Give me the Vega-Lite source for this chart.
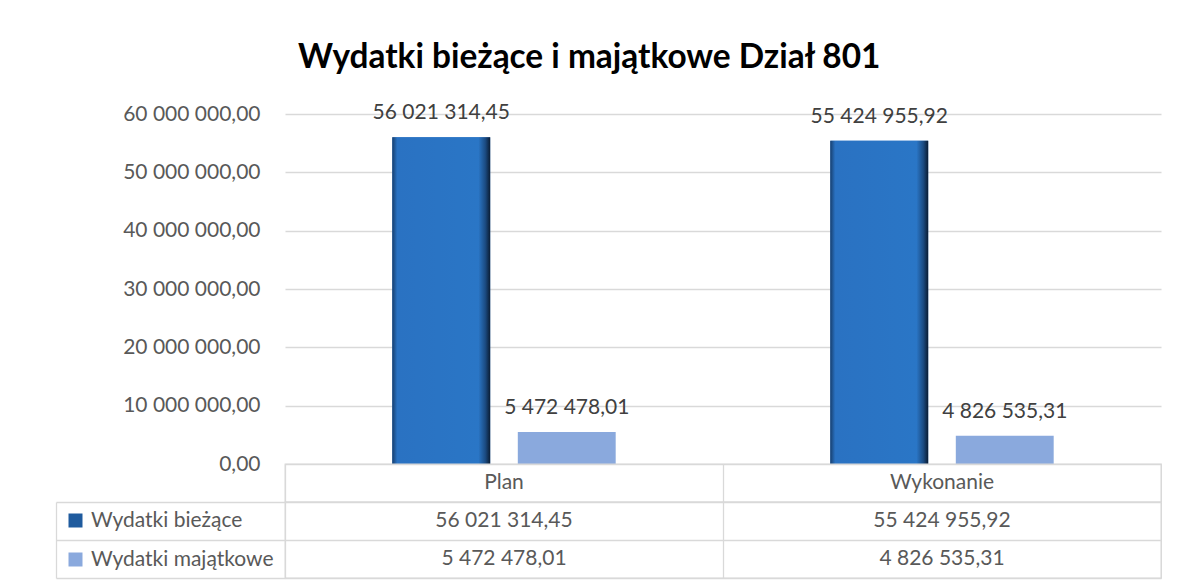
{
  "$schema": "https://vega.github.io/schema/vega-lite/v6.json",
  "background": "white",
  "padding": {"left": 54, "top": 40, "right": 0, "bottom": 0},
  "title": {"text": "Wydatki bieżące i majątkowe Dział 801", "font": "Lato", "fontSize": 33.4, "fontWeight": "bold", "color": "#000000", "anchor": "middle", "offset": 27, "dx": -19},
  "datasets": {
    "d": [
      {"kat": "Plan", "seria": "Wydatki bieżące", "wartosc": 56021314.45},
      {"kat": "Plan", "seria": "Wydatki majątkowe", "wartosc": 5472478.01},
      {"kat": "Wykonanie", "seria": "Wydatki bieżące", "wartosc": 55424955.92},
      {"kat": "Wykonanie", "seria": "Wydatki majątkowe", "wartosc": 4826535.31}
    ]
  },
  "spacing": 0,
  "bounds": "flush",
  "resolve": {"scale": {"x": "independent", "y": "independent", "color": "independent"}, "legend": {"color": "independent"}},
  "vconcat": [
    {
      "width": 876,
      "height": 350,
      "data": {"name": "d"},
      "view": {"stroke": null},
      "encoding": {
        "x": {"field": "kat", "type": "nominal", "sort": ["Plan", "Wykonanie"], "scale": {"paddingInner": 0.49, "paddingOuter": 0.245}, "axis": null},
        "xOffset": {"field": "seria", "type": "nominal", "sort": ["Wydatki bieżące", "Wydatki majątkowe"], "scale": {"paddingInner": 0.22, "paddingOuter": 0}},
        "y": {"field": "wartosc", "type": "quantitative", "scale": {"domain": [0, 60000000], "nice": false},
          "axis": {"values": [0, 10000000, 20000000, 30000000, 40000000, 50000000, 60000000], "format": ",.2f", "labelFont": "Lato", "labelFontSize": 21, "labelColor": "#595959", "domain": false, "ticks": false, "labelPadding": 25, "grid": true, "gridColor": "#d9d9d9", "gridWidth": 1.3, "title": null}}
      },
      "layer": [
        {"mark": {"type": "bar"}, "encoding": {"color": {"field": "seria", "type": "nominal", "scale": {"domain": ["Wydatki bieżące", "Wydatki majątkowe"], "range": ["#2e75c6", "#8aa9dd"]}, "legend": null}}},
        {"transform": [{"filter": "datum.seria === 'Wydatki bieżące'"}],
         "mark": {"type": "bar", "color": {"gradient": "linear", "x1": 0, "x2": 1, "y1": 0, "y2": 0, "stops": [{"offset": 0, "color": "#173f6e"}, {"offset": 0.05, "color": "#2a72c2"}, {"offset": 0.88, "color": "#2a76c6"}, {"offset": 0.95, "color": "#1b4b82"}, {"offset": 1, "color": "#0a1c33"}]}}},
        {"mark": {"type": "text", "baseline": "bottom", "dy": -14, "font": "Lato", "fontSize": 21, "color": "#404040"}, "encoding": {"text": {"field": "wartosc", "type": "quantitative", "format": ",.2f"}}}
      ]
    },
    {
      "width": 876,
      "height": 38,
      "data": {"name": "d"},
      "transform": [{"filter": "datum.seria === 'Wydatki bieżące'"}],
      "view": {"stroke": "#d9d9d9", "strokeWidth": 1.3},
      "mark": {"type": "text", "font": "Lato", "fontSize": 21, "color": "#595959"},
      "encoding": {
        "x": {"field": "kat", "type": "nominal", "sort": ["Plan", "Wykonanie"], "scale": {"padding": 0}, "axis": {"labels": false, "ticks": false, "domain": false, "grid": true, "tickBand": "extent", "gridColor": "#d9d9d9", "gridWidth": 1.3, "title": null}},
        "text": {"field": "kat", "type": "nominal"}
      }
    },
    {
      "width": 876,
      "height": 76,
      "data": {"name": "d"},
      "view": {"stroke": "#d9d9d9", "strokeWidth": 1.3},
      "encoding": {
        "x": {"field": "kat", "type": "nominal", "sort": ["Plan", "Wykonanie"], "scale": {"padding": 0}, "axis": {"labels": false, "ticks": false, "domain": false, "grid": true, "tickBand": "extent", "gridColor": "#d9d9d9", "gridWidth": 1.3, "title": null}},
        "y": {"field": "seria", "type": "nominal", "sort": ["Wydatki bieżące", "Wydatki majątkowe"], "scale": {"padding": 0},
          "axis": {"labels": false, "domain": true, "domainColor": "#d9d9d9", "domainWidth": 1.3, "offset": 229, "ticks": true, "tickSize": -229, "tickBand": "extent", "tickColor": "#d9d9d9", "tickWidth": 1.3, "grid": true, "gridColor": "#d9d9d9", "gridWidth": 1.3, "title": null}}
      },
      "layer": [
        {"mark": {"type": "text", "font": "Lato", "fontSize": 21, "color": "#595959"}, "encoding": {"text": {"field": "wartosc", "type": "quantitative", "format": ",.2f"}}},
        {"mark": {"type": "point", "shape": "square", "filled": true, "opacity": 0},
         "encoding": {"color": {"field": "seria", "type": "nominal", "scale": {"domain": ["Wydatki bieżące", "Wydatki majątkowe"], "range": ["#1f5b9e", "#8aa9dd"]},
           "legend": {"orient": "none", "legendX": -220, "legendY": 8, "title": null, "symbolType": "square", "symbolSize": 196, "symbolOpacity": 1, "symbolStrokeWidth": 0, "labelFont": "Lato", "labelFontSize": 21, "labelColor": "#595959", "labelOffset": 5, "labelLimit": 300, "rowPadding": 17, "padding": 0}}}}
      ]
    }
  ],
  "config": {
    "locale": {"number": {"decimal": ",", "thousands": " ", "grouping": [3], "currency": ["", " zł"]}},
    "font": "Lato"
  }
}
